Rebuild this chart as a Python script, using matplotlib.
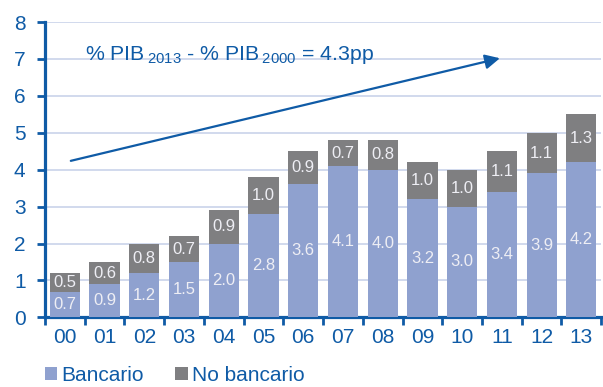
import numpy as np
import matplotlib
matplotlib.use('Agg')
import matplotlib.pyplot as plt

plt.rcParams['font.family'] = ['Liberation Sans', 'DejaVu Sans']
plt.rcParams['mathtext.fontset'] = 'custom'
plt.rcParams['mathtext.rm'] = 'Liberation Sans'
plt.rcParams['mathtext.it'] = 'Liberation Sans'
plt.rcParams['mathtext.bf'] = 'Liberation Sans'
plt.rcParams['mathtext.default'] = 'regular'

# --- datos ---
years = ['00', '01', '02', '03', '04', '05', '06', '07', '08', '09', '10', '11', '12', '13']
bancario = [0.7, 0.9, 1.2, 1.5, 2.0, 2.8, 3.6, 4.1, 4.0, 3.2, 3.0, 3.4, 3.9, 4.2]
no_bancario = [0.5, 0.6, 0.8, 0.7, 0.9, 1.0, 0.9, 0.7, 0.8, 1.0, 1.0, 1.1, 1.1, 1.3]
series_names = ['Bancario', 'No bancario']

# --- estilo ---
c_banc = '#8fa1cf'
c_nob = '#7f7f81'
c_blue = '#0f5ba6'
c_grid = '#c9d3ea'

fig = plt.figure(figsize=(6.03, 3.87), dpi=100)
ax = fig.add_axes([0.0746, 0.180, 0.9224, 0.763])

x = np.arange(len(years))
b1 = ax.bar(x, bancario, width=0.76, color=c_banc, label=series_names[0], zorder=3)
b2 = ax.bar(x, no_bancario, width=0.76, bottom=bancario, color=c_nob,
            label=series_names[1], zorder=3)
ax.bar_label(b1, labels=[f'{v:.1f}' for v in bancario], label_type='center',
             color='#eeeef4', fontsize=12)
ax.bar_label(b2, labels=[f'{v:.1f}' for v in no_bancario], label_type='center',
             color='#eeeef4', fontsize=12)

ax.set_xlim(-0.5, len(years) - 0.5)
ax.set_ylim(0, 8)
ax.set_yticks(range(0, 9))
ax.yaxis.grid(True, color=c_grid, lw=1.2, zorder=0)
ax.set_axisbelow(True)

ax.set_xticks(x)
ax.set_xticklabels(years)
ax.set_xticks(np.arange(-0.5, len(years)), minor=True)
ax.tick_params(axis='x', which='major', length=0, pad=8, labelsize=15, labelcolor=c_blue)
ax.tick_params(axis='x', which='minor', length=6, width=2, color=c_blue, direction='out')
ax.tick_params(axis='y', length=6, width=2, color=c_blue, labelsize=15,
               labelcolor=c_blue, pad=8)

for s in ['top', 'right']:
    ax.spines[s].set_visible(False)
for s in ['left', 'bottom']:
    ax.spines[s].set_color(c_blue)
    ax.spines[s].set_linewidth(2.3)

# flecha y texto
ax.annotate('', xy=(10.95, 7.02), xytext=(0.15, 4.24),
            arrowprops=dict(arrowstyle='-|>', color=c_blue, lw=1.6,
                            mutation_scale=22, shrinkA=0, shrinkB=0), zorder=5)
ax.text(0.5, 6.97, r'% PIB$\,_{2013}$ - % PIB$\,_{2000}$ = 4.3pp', color=c_blue,
        fontsize=15.3, va='baseline', ha='left', zorder=5)

fig.legend(handles=[b1, b2], loc='lower left', bbox_to_anchor=(0.043, -0.042),
           ncol=2, frameon=False, fontsize=15, labelcolor=c_blue,
           handlelength=0.6, handleheight=0.6, handletextpad=0.2,
           columnspacing=1.5)

fig.savefig('out.png', dpi=100)
